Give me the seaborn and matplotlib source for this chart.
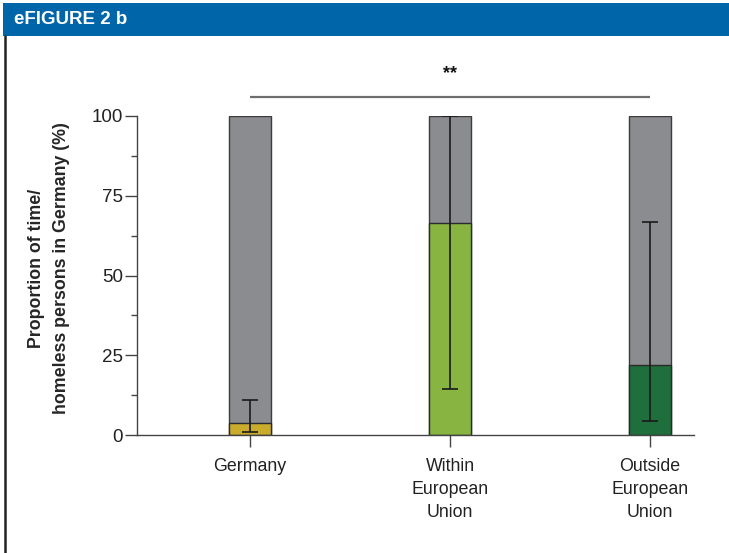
import matplotlib
matplotlib.use("Agg")
import matplotlib.pyplot as plt
from matplotlib.patches import Rectangle
from matplotlib.lines import Line2D
import seaborn as sns
import pandas as pd

# Data
categories = ["Germany", "Within\nEuropean\nUnion", "Outside\nEuropean\nUnion"]
homeless_share = [3.8, 66.5, 22.0]     # % homeless persons (coloured part)
ci_low = [1.0, 14.5, 4.5]
ci_high = [11.0, 100.0, 66.7]
total = [100, 100, 100]
bar_colors = ["#c9ac2c", "#88b441", "#1e6f3b"]
gray = "#8a8c8f"
y_ticks = [0, 25, 50, 75, 100]
y_minor = [12.5, 37.5, 62.5, 87.5]
sig_text = "**"
sig_level = 106
header_text = "eFIGURE 2 b"
ylabel_text = "Proportion of time/\nhomeless persons in Germany (%)"

sns.set_theme(style="white")
plt.rcParams["font.family"] = ["Liberation Sans", "DejaVu Sans"]

W, H = 729, 553
fig = plt.figure(figsize=(W / 100, H / 100), dpi=100)

# Axes placement in pixels
x0, x1 = 137, 694
y_bottom, y_top = 435, 116
ax = fig.add_axes([x0 / W, 1 - y_bottom / H, (x1 - x0) / W, (y_bottom - y_top) / H])

df = pd.DataFrame({"cat": categories, "total": total, "share": homeless_share})

sns.barplot(data=df, x="cat", y="total", color=gray, width=0.21,
            edgecolor="#3c3c3c", linewidth=1.0, ax=ax, saturation=1)
sns.barplot(data=df, x="cat", y="share", hue="cat", palette=bar_colors,
            width=0.21, edgecolor="#2a2a2a", linewidth=1.0, ax=ax,
            saturation=1, legend=False)

xs = range(len(categories))
lower = [m - l for m, l in zip(homeless_share, ci_low)]
upper = [h - m for m, h in zip(homeless_share, ci_high)]
ax.errorbar(list(xs), homeless_share, yerr=[lower, upper], fmt="none",
            ecolor="#1a1a1a", elinewidth=1.2, capsize=6, capthick=1.2, zorder=5)

ax.set_xlim(-0.565, 2.22)
ax.set_ylim(0, 100)
ax.set_xlabel("")
ax.set_ylabel(ylabel_text, fontsize=12.8, fontweight="bold", linespacing=1.65)
ax.yaxis.label.set_verticalalignment("center")
ax.yaxis.set_label_coords((49 - x0) / (x1 - x0), (y_bottom - 268) / (y_bottom - y_top))
ax.set_yticks(y_ticks)
ax.set_yticks(y_minor, minor=True)
ax.tick_params(axis="y", which="major", direction="out", length=8.5, width=1,
               color="#444444", labelsize=13.5, pad=1.5, left=True,
               labelcolor="#222222")
ax.tick_params(axis="y", which="minor", direction="out", length=4.5, width=1,
               color="#444444", left=True)
ax.tick_params(axis="x", direction="out", length=8.5, width=1, color="#444444",
               labelsize=12.8, pad=8, bottom=True, labelcolor="#222222")
for lbl in ax.get_xticklabels():
    lbl.set_linespacing(1.45)

sns.despine(ax=ax, top=True, right=True)
for s in ("left", "bottom"):
    ax.spines[s].set_color("#444444")
    ax.spines[s].set_linewidth(1.0)

# Significance bracket
ax.plot([0, 2], [sig_level, sig_level], color="#6e6e6e", lw=1.6,
        clip_on=False, solid_capstyle="butt")
ax.text(1, sig_level + 7.2, sig_text, ha="center", va="center",
        fontsize=13, fontweight="bold", color="#111111")

# Header band and frame
fig.patches.append(Rectangle((3 / W, 1 - 36 / H), (W - 3) / W, 33 / H,
                             transform=fig.transFigure, facecolor="#0066a9",
                             edgecolor="none", zorder=0))
fig.text(14 / W, 1 - 20 / H, header_text, color="white", fontsize=13.5,
         fontweight="bold", va="center", ha="left")
fig.lines.append(Line2D([5 / W, 5 / W], [0, 1 - 36 / H],
                        transform=fig.transFigure, color="#222222", lw=1.8))

fig.savefig("out.png", dpi=100, facecolor="white")
